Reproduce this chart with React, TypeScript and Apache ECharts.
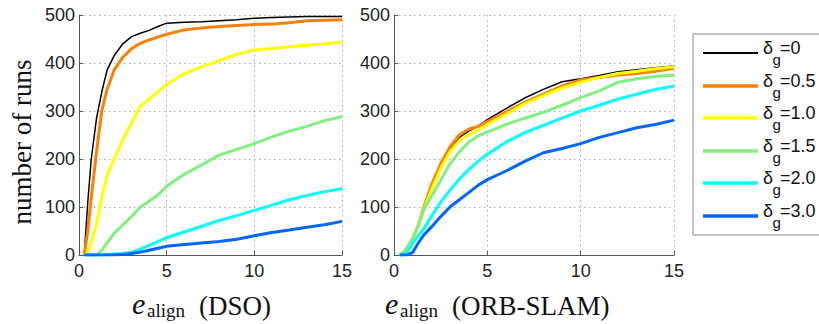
import React, { useEffect, useRef } from "react";
import * as echarts from "echarts";

const xs = [0.3, 0.5, 0.7, 1.0, 1.3, 1.6, 2.0, 2.5, 3.0, 3.5, 4.0, 4.5, 5, 6, 7, 8, 9, 10, 11, 12, 13, 14, 15];

const seriesNames = ["0", "0.5", "1.0", "1.5", "2.0", "3.0"];
const seriesColors = ["#000000", "#ff7f00", "#ffff00", "#80f080", "#00ffff", "#0066ff"];
const seriesWidths = [1.5, 3, 3, 3, 3, 3];

// DSO panel
const dsoD00 = [0, 110, 200, 285, 340, 385, 415, 440, 455, 462, 468, 476, 483, 485, 486, 488, 490, 493, 495, 496, 497, 497, 497];
const dsoD05 = [0, 50, 120, 215, 300, 345, 385, 412, 430, 441, 448, 454, 460, 469, 473, 476, 478, 480, 481, 484, 488, 489, 490];
const dsoD10 = [0, 5, 25, 65, 120, 165, 200, 240, 275, 310, 325, 340, 355, 378, 392, 405, 418, 427, 430, 434, 437, 440, 443];
const dsoD15 = [0, 0, 0, 0, 10, 25, 45, 63, 80, 100, 112, 125, 143, 168, 188, 208, 220, 232, 246, 258, 268, 280, 288];
const dsoD20 = [0, 0, 0, 0, 0, 1, 2, 3, 6, 12, 20, 28, 36, 48, 60, 72, 82, 93, 104, 115, 124, 132, 138];
const dsoD30 = [0, 0, 0, 0, 0, 0, 0, 1, 3, 6, 10, 14, 18, 22, 25, 28, 33, 40, 47, 52, 58, 63, 70];

// ORB-SLAM panel
const orbD00 = [0, 5, 15, 35, 60, 100, 140, 185, 220, 245, 258, 268, 282, 305, 327, 345, 361, 367, 374, 382, 386, 390, 394];
const orbD05 = [0, 5, 15, 35, 62, 100, 145, 190, 225, 250, 262, 268, 278, 298, 318, 335, 352, 365, 370, 375, 378, 383, 389];
const orbD10 = [0, 3, 12, 33, 60, 95, 135, 180, 215, 238, 250, 260, 272, 293, 315, 332, 348, 360, 370, 378, 383, 388, 392];
const orbD15 = [0, 5, 15, 35, 60, 95, 122, 155, 190, 215, 235, 248, 256, 272, 285, 297, 312, 328, 342, 360, 367, 372, 375];
const orbD20 = [0, 0, 5, 25, 40, 55, 80, 110, 135, 158, 178, 195, 210, 235, 255, 270, 285, 300, 312, 325, 335, 345, 352];
const orbD30 = [0, 0, 0, 5, 25, 42, 58, 80, 100, 115, 130, 145, 157, 175, 195, 213, 222, 232, 245, 255, 265, 272, 281];

const dsoSeries = [dsoD00, dsoD05, dsoD10, dsoD15, dsoD20, dsoD30];
const orbSeries = [orbD00, orbD05, orbD10, orbD15, orbD20, orbD30];

const xTicks = [0, 5, 10, 15];
const yTicks = [0, 100, 200, 300, 400, 500];

const SANS = "Liberation Sans";
const SERIF = "Liberation Serif";

export default function App() {
  const ref = useRef<HTMLDivElement>(null);
  useEffect(() => {
    if (!ref.current) return;
    const chart = echarts.init(ref.current, undefined, { renderer: "svg" });

    const mkX = (idx: number) => ({
      type: "value",
      gridIndex: idx,
      min: xTicks[0],
      max: xTicks[xTicks.length - 1],
      interval: 5,
      axisLine: { show: true, onZero: false, lineStyle: { color: "#555", width: 1 } },
      axisTick: { show: true, inside: true, length: 4, lineStyle: { color: "#555" } },
      axisLabel: { fontFamily: SANS, fontSize: 18, color: "#222", margin: 7 },
      splitLine: { show: true, lineStyle: { color: "#aaa", type: [1.5, 3.5], width: 1 } },
    });
    const mkY = (idx: number) => ({
      type: "value",
      gridIndex: idx,
      min: yTicks[0],
      max: yTicks[yTicks.length - 1],
      interval: 100,
      axisLine: { show: true, onZero: false, lineStyle: { color: "#555", width: 1 } },
      axisTick: { show: true, inside: true, length: 4, lineStyle: { color: "#555" } },
      axisLabel: { fontFamily: SANS, fontSize: 18, color: "#222", margin: 4 },
      splitLine: { show: true, lineStyle: { color: "#aaa", type: [1.5, 3.5], width: 1 } },
    });

    const series: any[] = [];
    [dsoSeries, orbSeries].forEach((group, gi) => {
      group.forEach((ys, si) => {
        series.push({
          type: "line",
          name: seriesNames[si],
          xAxisIndex: gi,
          yAxisIndex: gi,
          showSymbol: false,
          symbol: "none",
          data: xs.map((x, i) => [x, ys[i]]),
          lineStyle: { color: seriesColors[si], width: seriesWidths[si] },
          itemStyle: { color: seriesColors[si] },
        });
      });
    });

    const legendTop = 34;
    const rowYs = [53, 86, 118, 151, 183, 216];
    const legendEls: any[] = [
      {
        type: "rect",
        shape: { x: 693, y: legendTop, width: 140, height: 201 },
        style: { fill: "#fff", stroke: "#888", lineWidth: 1 },
      },
    ];
    seriesNames.forEach((n, i) => {
      const y = rowYs[i];
      legendEls.push({
        type: "line",
        shape: { x1: 703, y1: y, x2: 758, y2: y },
        style: { stroke: seriesColors[i], lineWidth: seriesWidths[i] + 0.5 },
      });
      legendEls.push({
        type: "text",
        x: 763,
        y: y - 5,
        style: { text: "δ", font: `18px '${SANS}'`, fill: "#111", align: "left", verticalAlign: "middle" },
      });
      legendEls.push({
        type: "text",
        x: 772.5,
        y: y + 6,
        style: { text: "g", font: `15px '${SANS}'`, fill: "#111", align: "left", verticalAlign: "middle" },
      });
      legendEls.push({
        type: "text",
        x: 780,
        y: y - 5,
        style: { text: "=" + n, font: `18px '${SANS}'`, fill: "#111", align: "left", verticalAlign: "middle" },
      });
    });

    const xTitle = (x0: number, label: string) => [
      {
        type: "text",
        x: x0,
        y: 303,
        style: { text: "e", font: `italic 30px '${SERIF}'`, fill: "#111", align: "left", verticalAlign: "middle" },
      },
      {
        type: "text",
        x: x0 + 15,
        y: 310,
        style: { text: "align", font: `19px '${SERIF}'`, fill: "#111", align: "left", verticalAlign: "middle" },
      },
      {
        type: "text",
        x: x0 + 67,
        y: 306,
        style: { text: label, font: `27px '${SERIF}'`, fill: "#111", align: "left", verticalAlign: "middle" },
      },
    ];

    const option: any = {
      animation: false,
      backgroundColor: "#fff",
      grid: [
        { left: 79, top: 15, width: 263, height: 240, containLabel: false },
        { left: 394, top: 15, width: 280, height: 240, containLabel: false },
      ],
      xAxis: [mkX(0), mkX(1)],
      yAxis: [mkY(0), mkY(1)],
      series,
      graphic: [
        {
          type: "text",
          x: 22,
          y: 142,
          rotation: Math.PI / 2,
          style: {
            text: "number of runs",
            font: `27px '${SERIF}'`,
            fill: "#111",
            align: "center",
            verticalAlign: "middle",
          },
        },
        ...xTitle(132, "(DSO)"),
        ...xTitle(385, "(ORB-SLAM)"),
        ...legendEls,
      ],
    };
    chart.setOption(option);
    return () => chart.dispose();
  }, []);
  return (
    <div
      ref={ref}
      style={{ position: "fixed", left: 0, top: 0, width: 819, height: 324 }}
    />
  );
}
